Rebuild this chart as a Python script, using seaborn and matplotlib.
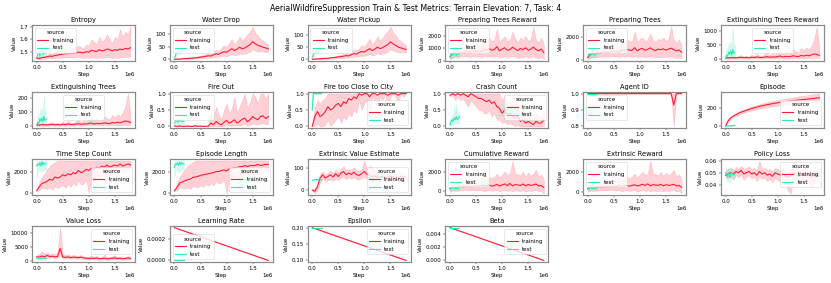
"""AerialWildfireSuppression train & test metric grid."""
import numpy as np
import pandas as pd
import seaborn as sns
import matplotlib.pyplot as plt

# x positions of the logged points
train_steps = np.linspace(0, 1.8e6, 37)
test_steps = np.linspace(0, 1.8e5, 10)
line_steps = [0, 1.8e6]
line_test_steps = [0, 1.8e5]

# ---- Entropy
entropy_train = [1.455, 1.452, 1.458, 1.46, 1.465, 1.47, 1.468, 1.475, 1.478, 1.482,
                 1.485, 1.488, 1.49, 1.492, 1.49, 1.495, 1.50, 1.498, 1.495, 1.505,
                 1.50, 1.515, 1.51, 1.505, 1.52, 1.51, 1.515, 1.525, 1.52, 1.51,
                 1.52, 1.515, 1.525, 1.52, 1.53, 1.525, 1.535]
entropy_train_lo = [1.45, 1.445, 1.45, 1.45, 1.452, 1.455, 1.45, 1.455, 1.455, 1.458,
                    1.46, 1.46, 1.46, 1.462, 1.458, 1.46, 1.465, 1.46, 1.455, 1.46,
                    1.455, 1.46, 1.46, 1.455, 1.46, 1.455, 1.46, 1.465, 1.46, 1.455,
                    1.46, 1.455, 1.46, 1.46, 1.465, 1.46, 1.47]
entropy_train_hi = [1.46, 1.462, 1.468, 1.472, 1.48, 1.49, 1.49, 1.50, 1.505, 1.51,
                    1.515, 1.52, 1.525, 1.53, 1.53, 1.54, 1.55, 1.54, 1.53, 1.56,
                    1.55, 1.60, 1.58, 1.56, 1.62, 1.58, 1.60, 1.64, 1.60, 1.57,
                    1.62, 1.60, 1.68, 1.62, 1.66, 1.64, 1.70]
entropy_test = [1.46, 1.48, 1.51, 1.47, 1.50, 1.52, 1.48, 1.50, 1.49, 1.50]
entropy_test_lo = [1.45, 1.46, 1.48, 1.45, 1.47, 1.48, 1.46, 1.47, 1.47, 1.48]
entropy_test_hi = [1.47, 1.50, 1.54, 1.50, 1.53, 1.55, 1.51, 1.53, 1.52, 1.52]
entropy_ticks = [1.5, 1.6, 1.7]

# ---- Water Drop
water_drop_train = [0, 1, 1, 2, 3, 3, 4, 5, 6, 7,
                    9, 10, 12, 14, 13, 18, 22, 20, 26, 30,
                    28, 35, 42, 35, 40, 48, 42, 45, 52, 58,
                    70, 62, 55, 52, 48, 45, 42]
water_drop_train_lo = [0, 0, 0, 1, 1, 1, 2, 2, 3, 3,
                       4, 5, 6, 7, 6, 8, 10, 9, 12, 14,
                       13, 16, 20, 16, 18, 24, 20, 22, 26, 30,
                       40, 34, 30, 32, 30, 28, 30]
water_drop_train_hi = [0, 2, 3, 4, 5, 6, 7, 8, 10, 12,
                       15, 16, 20, 24, 22, 30, 38, 34, 44, 55,
                       50, 65, 80, 60, 72, 90, 75, 85, 100, 110,
                       130, 105, 95, 80, 75, 65, 60]
water_drop_test = [5, 15, 28, 32, 30, 34, 30, 35, 32, 33]
water_drop_test_lo = [2, 8, 20, 22, 22, 25, 22, 26, 24, 25]
water_drop_test_hi = [10, 25, 38, 42, 40, 44, 40, 45, 42, 42]

# ---- Water Pickup
water_pickup_train = [0, 1, 2, 2, 3, 4, 4, 6, 7, 8,
                      10, 11, 13, 15, 14, 19, 24, 21, 28, 32,
                      30, 37, 44, 36, 42, 50, 44, 48, 55, 60,
                      72, 64, 58, 50, 47, 44, 40]
water_pickup_train_lo = [0, 0, 1, 1, 1, 2, 2, 3, 3, 4,
                         5, 5, 6, 7, 7, 9, 11, 10, 13, 15,
                         14, 17, 21, 17, 19, 25, 21, 23, 27, 31,
                         42, 36, 32, 30, 30, 28, 28]
water_pickup_train_hi = [0, 2, 3, 4, 5, 6, 7, 9, 11, 13,
                         16, 18, 22, 25, 23, 32, 40, 35, 46, 58,
                         52, 68, 85, 62, 75, 95, 78, 88, 105, 115,
                         135, 110, 100, 82, 76, 66, 58]
water_pickup_test = [8, 18, 30, 34, 32, 36, 31, 36, 33, 34]
water_pickup_test_lo = [4, 10, 22, 24, 24, 27, 23, 27, 25, 26]
water_pickup_test_hi = [12, 28, 40, 44, 42, 46, 40, 46, 43, 43]

# ---- Preparing Trees Reward
prep_reward_train = [300, 550, 650, 600, 700, 650, 720, 700, 680, 800,
                     750, 780, 700, 950, 820, 1000, 850, 900, 1150, 800,
                     950, 1050, 850, 900, 1100, 950, 820, 1000, 900, 1050,
                     850, 950, 1100, 900, 800, 950, 650]
prep_reward_train_lo = [100, 250, 350, 300, 350, 300, 350, 300, 300, 400,
                        300, 350, 250, 400, 300, 350, 300, 300, 400, 250,
                        300, 350, 250, 300, 350, 300, 200, 300, 250, 350,
                        250, 300, 350, 250, 200, 300, 150]
prep_reward_train_hi = [500, 850, 950, 900, 1100, 1050, 1150, 1200, 1100, 1300,
                        1300, 1400, 1250, 1700, 1450, 1900, 1600, 1700, 2600, 1500,
                        1800, 2000, 1600, 1700, 2400, 1800, 1500, 1900, 1700, 2000,
                        1600, 1800, 2800, 1700, 1500, 1900, 1300]
prep_reward_test = [300, 600, 400, 700, 500, 800, 400, 650, 500, 600]
prep_reward_test_lo = [100, 200, 150, 300, 200, 400, 150, 300, 200, 300]
prep_reward_test_hi = [600, 1000, 800, 1100, 900, 1200, 800, 1000, 900, 900]

# ---- Preparing Trees
prep_trees_train = [250, 500, 620, 580, 680, 640, 700, 720, 660, 780,
                    760, 800, 680, 920, 850, 980, 880, 860, 1100, 820,
                    980, 1020, 880, 950, 1080, 920, 850, 980, 920, 1000,
                    880, 980, 1050, 920, 820, 900, 700]
prep_trees_train_lo = [100, 200, 300, 280, 330, 300, 320, 330, 280, 380,
                       330, 350, 260, 380, 320, 360, 330, 300, 380, 280,
                       330, 340, 280, 320, 340, 300, 240, 310, 280, 330,
                       280, 320, 340, 280, 220, 290, 200]
prep_trees_train_hi = [450, 800, 950, 900, 1050, 1000, 1150, 1250, 1100, 1300,
                       1300, 1450, 1200, 1650, 1500, 1850, 1650, 1600, 2500, 1550,
                       1850, 1950, 1650, 1800, 2300, 1750, 1550, 1850, 1750, 1950,
                       1650, 1850, 2900, 1750, 1500, 1800, 1350]
prep_trees_test = [350, 550, 450, 650, 550, 750, 450, 600, 550, 600]
prep_trees_test_lo = [150, 200, 150, 300, 200, 350, 150, 300, 250, 300]
prep_trees_test_hi = [650, 950, 850, 1100, 950, 1200, 850, 1000, 900, 950]

# ---- Extinguishing Trees Reward
ext_reward_train = [50, 45, 60, 55, 50, 60, 70, 55, 65, 50,
                    75, 60, 85, 65, 60, 80, 95, 70, 85, 80,
                    100, 115, 80, 105, 90, 100, 125, 105, 95, 135,
                    115, 145, 125, 155, 190, 170, 140]
ext_reward_train_lo = [20, 20, 25, 25, 20, 25, 30, 20, 25, 20,
                       30, 25, 30, 25, 25, 30, 35, 25, 30, 30,
                       35, 40, 30, 35, 30, 35, 40, 35, 30, 40,
                       35, 45, 40, 45, 60, 50, 45]
ext_reward_train_hi = [90, 80, 110, 100, 90, 120, 150, 100, 130, 90,
                       170, 110, 200, 130, 120, 180, 230, 140, 200, 170,
                       250, 300, 180, 270, 220, 260, 350, 280, 240, 400,
                       320, 420, 350, 480, 700, 1150, 420]
ext_reward_test = [30, 150, 100, 250, 180, 300, 150, 350, 200, 250]
ext_reward_test_lo = [0, 30, 20, 60, 40, 80, 30, 100, 50, 80]
ext_reward_test_hi = [80, 400, 250, 600, 400, 650, 350, 1100, 450, 500]

# ---- Extinguishing Trees
ext_trees_train = [10, 9, 12, 11, 10, 12, 14, 11, 13, 10,
                   15, 12, 17, 13, 12, 16, 19, 14, 17, 16,
                   20, 23, 16, 21, 18, 20, 25, 21, 19, 27,
                   23, 29, 25, 31, 38, 34, 28]
ext_trees_train_lo = [4, 4, 5, 5, 4, 5, 6, 4, 5, 4,
                      6, 5, 6, 5, 5, 6, 7, 5, 6, 6,
                      7, 8, 6, 7, 6, 7, 8, 7, 6, 8,
                      7, 9, 8, 9, 12, 10, 9]
ext_trees_train_hi = [18, 16, 22, 20, 18, 24, 30, 20, 26, 18,
                      34, 22, 40, 26, 24, 36, 46, 28, 40, 34,
                      50, 60, 36, 54, 44, 52, 70, 56, 48, 80,
                      64, 84, 70, 96, 140, 230, 84]
ext_trees_test = [6, 30, 20, 50, 36, 60, 30, 70, 40, 50]
ext_trees_test_lo = [0, 6, 4, 12, 8, 16, 6, 20, 10, 16]
ext_trees_test_hi = [16, 80, 50, 120, 80, 130, 70, 220, 90, 100]

# ---- Fire Out
fire_out_train = [0.01, 0, 0.01, 0, 0, 0.01, 0, 0, 0.02, 0,
                  0.01, 0, 0, 0.01, 0.1, 0.05, 0.15, 0.08, 0.05, 0.12,
                  0.18, 0.1, 0.14, 0.2, 0.1, 0.15, 0.22, 0.25, 0.14, 0.2,
                  0.3, 0.24, 0.2, 0.3, 0.32, 0.24, 0.3]
fire_out_train_lo = [0, 0, 0, 0, 0, 0, 0, 0, 0, 0,
                     0, 0, 0, 0, 0, 0, 0.02, 0, 0, 0.02,
                     0.04, 0.02, 0.02, 0.05, 0.02, 0.03, 0.05, 0.06, 0.03, 0.05,
                     0.08, 0.06, 0.05, 0.08, 0.1, 0.06, 0.08]
fire_out_train_hi = [0.03, 0.01, 0.03, 0.01, 0.01, 0.03, 0.01, 0.01, 0.05, 0.01,
                     0.03, 0.01, 0.01, 0.03, 0.45, 0.25, 0.6, 0.35, 0.2, 0.5,
                     0.7, 0.4, 0.55, 0.9, 0.4, 0.6, 0.8, 1.0, 0.55, 0.75,
                     1.0, 0.9, 0.7, 1.0, 1.0, 0.85, 1.0]
fire_out_test = [0.1, 0.15, 0.2, 0.12, 0.18, 0.15, 0.2, 0.14, 0.16, 0.15]
fire_out_test_lo = [0, 0.05, 0.1, 0.02, 0.08, 0.05, 0.1, 0.04, 0.06, 0.05]
fire_out_test_hi = [0.2, 0.25, 0.3, 0.22, 0.28, 0.25, 0.3, 0.24, 0.26, 0.25]

# ---- Fire too Close to City
fire_close_train = [0, 0.3, 0.45, 0.3, 0.35, 0.45, 0.6, 0.5, 0.55, 0.65,
                    0.7, 0.6, 0.75, 0.7, 0.85, 0.8, 0.9, 0.85, 1.0, 0.95,
                    1.0, 1.0, 0.9, 1.0, 1.0, 0.95, 1.0, 1.0, 1.0, 0.95,
                    1.0, 1.0, 1.0, 0.95, 1.0, 1.0, 1.0]
fire_close_train_lo = [0, 0, 0.1, 0, 0, 0.05, 0.2, 0, 0.1, 0.2,
                       0.3, 0.1, 0.3, 0.2, 0.4, 0.3, 0.5, 0.4, 0.8, 0.5,
                       0.7, 0.8, 0.3, 0.9, 0.8, 0.6, 0.9, 0.8, 1.0, 0.5,
                       0.9, 1.0, 0.9, 0.7, 1.0, 0.9, 1.0]
fire_close_train_hi = [0.05, 0.6, 0.8, 0.7, 0.8, 0.85, 1.0, 1.0, 1.0, 1.0,
                       1.0, 1.0, 1.0, 1.0, 1.0, 1.0, 1.0, 1.0, 1.0, 1.0,
                       1.0, 1.0, 1.0, 1.0, 1.0, 1.0, 1.0, 1.0, 1.0, 1.0,
                       1.0, 1.0, 1.0, 1.0, 1.0, 1.0, 1.0]
fire_close_test = [0.5, 1, 1, 1, 1, 1, 1, 1, 1, 1]
fire_close_test_lo = [0.5, 1, 1, 1, 1, 1, 1, 1, 1, 1]
fire_close_test_hi = [0.5, 1, 1, 1, 1, 1, 1, 1, 1, 1]

# ---- Crash Count
crash_train = [0.95, 1.0, 0.95, 1.0, 0.95, 1.0, 0.95, 0.9, 1.0, 0.95,
               0.9, 0.85, 0.85, 0.8, 0.75, 0.8, 0.7, 0.75, 0.6, 0.55,
               0.4, 0.5, 0.35, 0.4, 0.3, 0.25, 0.3, 0.15, 0.2, 0.1,
               0.15, 0.1, 0.05, 0.15, 0.1, 0.1, 0.2]
crash_train_lo = [0.9, 0.95, 0.8, 0.9, 0.8, 0.85, 0.7, 0.6, 0.8, 0.7,
                  0.6, 0.5, 0.5, 0.4, 0.4, 0.5, 0.3, 0.4, 0.2, 0.2,
                  0.1, 0.15, 0.05, 0.1, 0.05, 0.0, 0.05, 0, 0, 0,
                  0, 0, 0, 0, 0, 0, 0]
crash_train_hi = [1.0, 1.0, 1.0, 1.0, 1.0, 1.0, 1.0, 1.0, 1.0, 1.0,
                  1.0, 1.0, 1.0, 1.0, 1.0, 1.0, 1.0, 1.0, 1.0, 1.0,
                  0.8, 0.95, 0.7, 0.8, 0.6, 0.55, 0.65, 0.4, 0.5, 0.3,
                  0.4, 0.3, 0.2, 0.4, 0.3, 0.3, 0.45]
crash_test = [0.05, 0.15, 0.2, 0.15, 0.25, 0.2, 0.3, 0.2, 0.25, 0.3]
crash_test_lo = [0, 0.05, 0.1, 0.05, 0.1, 0.1, 0.1, 0.1, 0.1, 0.15]
crash_test_hi = [0.1, 0.3, 0.35, 0.3, 0.6, 0.35, 0.7, 0.35, 0.4, 0.45]

# ---- Agent ID
agent_train = [1.0] * 33 + [0.93, 1.0, 1.0, 1.0]
agent_train_lo = [1.0] * 33 + [0.8, 1.0, 1.0, 1.0]
agent_train_hi = [1.0] * 37
agent_test = [1.0] * 10

# ---- Episode
episode_train = [0, 60, 90, 110, 125, 140, 152, 162, 172, 181,
                 190, 198, 206, 213, 220, 226, 232, 237, 242, 247,
                 252, 256, 260, 264, 268, 272, 275, 278, 281, 284,
                 287, 290, 293, 296, 299, 302, 305]
episode_train_lo = [0, 50, 80, 98, 112, 125, 136, 145, 154, 162,
                    170, 177, 184, 190, 196, 201, 206, 210, 214, 218,
                    222, 225, 228, 231, 234, 237, 240, 242, 244, 246,
                    248, 250, 252, 254, 256, 258, 260]
episode_train_hi = [0, 70, 100, 122, 138, 155, 168, 179, 190, 200,
                    210, 219, 228, 236, 244, 251, 258, 264, 270, 276,
                    282, 287, 292, 297, 302, 307, 311, 315, 319, 323,
                    327, 331, 335, 339, 343, 347, 350]
episode_test = [0, 2, 4, 5, 6, 7, 8, 9, 10, 10]
episode_test_lo = [0, 1, 2, 3, 4, 5, 6, 7, 8, 8]
episode_test_hi = [0, 3, 6, 7, 8, 9, 10, 11, 12, 12]

# ---- Time Step Count
timestep_train = [250, 600, 900, 1000, 1100, 1300, 1200, 1500, 1400, 1500,
                  1700, 1600, 1800, 1700, 1900, 1800, 2100, 1900, 2000, 2200,
                  2100, 2300, 2200, 2400, 2300, 2500, 2400, 2600, 2400, 2500,
                  2600, 2500, 2700, 2500, 2600, 2700, 2600]
timestep_train_lo = [200, 300, 500, 500, 400, 600, 300, 700, 500, 600,
                     800, 500, 900, 600, 1000, 700, 1200, 800, 900, 1300,
                     0, 1400, 1100, 1600, 1300, 1800, 1500, 1900, 1600, 1700,
                     2000, 1800, 2100, 1800, 2000, 2100, 2000]
timestep_train_hi = [300, 1000, 1500, 1800, 2200, 2500, 2700, 2800, 3000, 3000,
                     3000, 3000, 3000, 3000, 3000, 3000, 3000, 3000, 3000, 3000,
                     3000, 3000, 3000, 3000, 3000, 3000, 3000, 3000, 3000, 3000,
                     3000, 3000, 3000, 3000, 3000, 3000, 3000]
timestep_test = [2500, 2700, 2600, 2800, 2500, 2900, 2600, 2800, 2700, 2700]
timestep_test_lo = [1500, 2000, 2100, 2200, 1900, 2300, 2000, 2200, 2200, 2100]
timestep_test_hi = [3000, 3000, 3000, 3000, 3000, 3000, 3000, 3000, 3000, 3000]

# ---- Episode Length
ep_len_train = [250, 550, 950, 1050, 1150, 1250, 1300, 1450, 1500, 1550,
                1650, 1700, 1750, 1800, 1850, 1900, 2000, 2000, 2100, 2150,
                2050, 2250, 2300, 2350, 2350, 2450, 2450, 2550, 2450, 2550,
                2550, 2550, 2650, 2550, 2600, 2650, 2650]
ep_len_train_lo = [200, 300, 550, 500, 450, 550, 400, 650, 600, 550,
                   750, 600, 850, 700, 950, 750, 1150, 900, 1000, 1250,
                   0, 1350, 1200, 1550, 1400, 1750, 1600, 1850, 1650, 1750,
                   1950, 1850, 2050, 1850, 2000, 2100, 2050]
ep_len_train_hi = [300, 950, 1500, 1850, 2200, 2500, 2700, 2850, 3000, 3000,
                   3000, 3000, 3000, 3000, 3000, 3000, 3000, 3000, 3000, 3000,
                   3000, 3000, 3000, 3000, 3000, 3000, 3000, 3000, 3000, 3000,
                   3000, 3000, 3000, 3000, 3000, 3000, 3000]
ep_len_test = [2400, 2700, 2650, 2800, 2550, 2850, 2650, 2800, 2700, 2700]
ep_len_test_lo = [1500, 2000, 2100, 2200, 1900, 2300, 2000, 2200, 2200, 2100]
ep_len_test_hi = [3000, 3000, 3000, 3000, 3000, 3000, 3000, 3000, 3000, 3000]

# ---- Extrinsic Value Estimate
value_est_train = [0, -5, 15, 55, 70, 55, 62, 70, 60, 75,
                   62, 78, 85, 70, 78, 72, 82, 70, 68, 75,
                   85, 72, 68, 62, 65, 58, 60, 62, 58, 60,
                   62, 60, 58, 60, 62, 60, 60]
value_est_train_lo = [-5, -15, 0, 35, 55, 40, 45, 50, 42, 55,
                      45, 58, 62, 50, 58, 52, 60, 50, 48, 55,
                      60, 52, 48, 45, 48, 42, 44, 46, 42, 44,
                      46, 44, 42, 44, 46, 44, 44]
value_est_train_hi = [5, 5, 30, 75, 85, 70, 80, 90, 78, 95,
                      80, 98, 110, 90, 98, 92, 105, 90, 88, 95,
                      135, 95, 110, 105, 95, 80, 76, 78, 74, 76,
                      78, 76, 74, 76, 78, 76, 76]
value_est_test = [45, 46, 47, 48, 48, 48, 49, 48, 49, 48]
value_est_test_lo = [42, 43, 44, 45, 45, 45, 46, 45, 46, 45]
value_est_test_hi = [48, 49, 50, 51, 51, 51, 52, 51, 52, 51]

# ---- Cumulative Reward
cum_reward_train = [300, 450, 400, 450, 500, 420, 480, 520, 450, 500,
                    550, 480, 600, 500, 550, 650, 520, 600, 700, 550,
                    650, 750, 600, 800, 550, 700, 650, 600, 750, 550,
                    700, 600, 650, 750, 550, 600, 400]
cum_reward_train_lo = [0, 150, 100, 150, 100, 100, 150, 100, 100, 150,
                       100, 100, 150, 0, 100, 150, 50, 100, 150, 0,
                       100, 150, 50, 100, 0, 100, 50, 50, 100, 0,
                       100, 50, 100, 150, 0, 50, -200]
cum_reward_train_hi = [700, 800, 800, 900, 1000, 900, 1000, 1100, 1000, 1100,
                       1200, 1100, 1400, 1200, 1300, 1500, 1300, 1500, 1800, 1400,
                       1700, 2000, 1600, 1800, 3100, 1800, 1700, 1600, 2000, 1500,
                       1900, 1600, 1800, 2200, 1500, 1700, 1200]
cum_reward_test = [200, 350, 300, 400, 300, 350, 250, 400, 300, 350]
cum_reward_test_lo = [-100, 0, 0, 50, 0, 50, -50, 50, 0, 50]
cum_reward_test_hi = [500, 700, 650, 800, 700, 700, 600, 800, 650, 700]

# ---- Extrinsic Reward
ext_rew_train = [320, 430, 420, 460, 480, 440, 470, 500, 470, 520,
                 530, 500, 580, 520, 560, 630, 540, 620, 680, 570,
                 640, 730, 620, 780, 570, 690, 660, 620, 730, 570,
                 690, 620, 660, 730, 570, 620, 420]
ext_rew_train_lo = [20, 130, 120, 160, 110, 120, 140, 110, 120, 160,
                    120, 110, 160, 20, 110, 160, 60, 120, 160, 20,
                    110, 160, 60, 110, 20, 110, 60, 60, 110, 20,
                    110, 60, 110, 160, 20, 60, -180]
ext_rew_train_hi = [680, 780, 820, 880, 980, 920, 980, 1080, 1020, 1120,
                    1180, 1120, 1380, 1220, 1320, 1480, 1320, 1520, 1780, 1420,
                    1680, 1980, 1620, 1780, 3100, 1820, 1720, 1620, 1980, 1520,
                    1880, 1620, 1820, 2180, 1520, 1720, 1220]
ext_rew_test = [220, 330, 320, 380, 320, 340, 270, 380, 320, 340]
ext_rew_test_lo = [-80, 20, 20, 60, 20, 60, -30, 60, 20, 60]
ext_rew_test_hi = [520, 680, 660, 780, 680, 700, 620, 780, 660, 700]

# ---- Policy Loss
policy_train = [0.048, 0.049, 0.050, 0.049, 0.051, 0.050, 0.052, 0.049, 0.050, 0.051,
                0.049, 0.050, 0.048, 0.051, 0.049, 0.050, 0.048, 0.049, 0.047, 0.050,
                0.049, 0.048, 0.050, 0.047, 0.046, 0.048, 0.050, 0.049, 0.047, 0.048,
                0.050, 0.049, 0.048, 0.046, 0.048, 0.049, 0.047]
policy_train_lo = [0.046, 0.046, 0.047, 0.045, 0.048, 0.046, 0.049, 0.044, 0.047, 0.048,
                   0.045, 0.047, 0.043, 0.047, 0.045, 0.046, 0.043, 0.045, 0.042, 0.046,
                   0.044, 0.043, 0.046, 0.040, 0.035, 0.033, 0.045, 0.044, 0.041, 0.043,
                   0.045, 0.043, 0.042, 0.038, 0.042, 0.044, 0.041]
policy_train_hi = [0.051, 0.053, 0.054, 0.052, 0.055, 0.053, 0.056, 0.053, 0.054, 0.055,
                   0.053, 0.054, 0.052, 0.060, 0.053, 0.054, 0.052, 0.053, 0.051, 0.054,
                   0.053, 0.052, 0.054, 0.051, 0.050, 0.052, 0.054, 0.053, 0.051, 0.052,
                   0.058, 0.053, 0.052, 0.050, 0.052, 0.053, 0.051]
policy_test = [0.050, 0.049, 0.047, 0.050, 0.046, 0.048, 0.050, 0.049, 0.048, 0.049]
policy_test_lo = [0.047, 0.045, 0.042, 0.046, 0.042, 0.044, 0.046, 0.045, 0.044, 0.046]
policy_test_hi = [0.053, 0.054, 0.052, 0.055, 0.051, 0.053, 0.055, 0.053, 0.052, 0.052]

# ---- Value Loss
value_loss_train = [1500, 1400, 1800, 1500, 2000, 1600, 1700, 1500, 1600, 4500,
                    1400, 1300, 1500, 1200, 1400, 1300, 1200, 1400, 1100, 1000,
                    900, 1000, 900, 1100, 800, 900, 1000, 800, 900, 1000,
                    1100, 900, 1000, 800, 900, 1100, 900]
value_loss_train_lo = [1200, 1000, 1300, 1100, 1200, 1100, 1200, 1000, 1100, 2500,
                       900, 900, 1000, 800, 900, 800, 800, 900, 700, 600,
                       500, 600, 500, 600, 400, 500, 600, 400, 500, 600,
                       600, 500, 600, 400, 500, 600, 500]
value_loss_train_hi = [1800, 2500, 3500, 2500, 3000, 2500, 2800, 2500, 3000, 12000,
                       2200, 2000, 2500, 1800, 2200, 2000, 1800, 2200, 1600, 1500,
                       1400, 2000, 1500, 1800, 1200, 1400, 2400, 1300, 1400, 1600,
                       2000, 1400, 1600, 1200, 1400, 1800, 1300]
value_loss_test = [1000, 1200, 800, 1300, 900, 1100, 1000, 1200, 900, 1000]
value_loss_test_lo = [400, 500, 300, 400, 200, 500, 400, 500, 300, 400]
value_loss_test_hi = [1800, 2500, 1500, 2400, 2000, 2000, 1800, 2200, 1700, 1800]

# ---- schedules (straight lines)
lr_train = [0.0003, 0.0]
lr_test = [0.0, 0.0]
epsilon_train = [0.2, 0.1]
epsilon_test = [0.2, 0.2]
beta_train = [0.005, 0.0]
beta_test = [0.005, 0.005]

PALETTE = {"training": "#ff1a33", "test": "#2ee8b6"}


def long_form(steps, line, lo, hi, source):
    """Three observations per step: the median is the line, min/max the band."""
    lo = line if lo is None else lo
    hi = line if hi is None else hi
    rows = []
    for s, a, b, c in zip(steps, lo, line, hi):
        for v in (a, b, c):
            rows.append((s, v, source))
    return pd.DataFrame(rows, columns=["Step", "Value", "source"])


panels = [
    ("Entropy", train_steps, entropy_train, entropy_train_lo, entropy_train_hi,
     test_steps, entropy_test, entropy_test_lo, entropy_test_hi, "upper left"),
    ("Water Drop", train_steps, water_drop_train, water_drop_train_lo, water_drop_train_hi,
     test_steps, water_drop_test, water_drop_test_lo, water_drop_test_hi, "upper left"),
    ("Water Pickup", train_steps, water_pickup_train, water_pickup_train_lo, water_pickup_train_hi,
     test_steps, water_pickup_test, water_pickup_test_lo, water_pickup_test_hi, "upper left"),
    ("Preparing Trees Reward", train_steps, prep_reward_train, prep_reward_train_lo, prep_reward_train_hi,
     test_steps, prep_reward_test, prep_reward_test_lo, prep_reward_test_hi, "upper left"),
    ("Preparing Trees", train_steps, prep_trees_train, prep_trees_train_lo, prep_trees_train_hi,
     test_steps, prep_trees_test, prep_trees_test_lo, prep_trees_test_hi, "upper left"),
    ("Extinguishing Trees Reward", train_steps, ext_reward_train, ext_reward_train_lo, ext_reward_train_hi,
     test_steps, ext_reward_test, ext_reward_test_lo, ext_reward_test_hi, "upper center"),
    ("Extinguishing Trees", train_steps, ext_trees_train, ext_trees_train_lo, ext_trees_train_hi,
     test_steps, ext_trees_test, ext_trees_test_lo, ext_trees_test_hi, "upper center"),
    ("Fire Out", train_steps, fire_out_train, fire_out_train_lo, fire_out_train_hi,
     test_steps, fire_out_test, fire_out_test_lo, fire_out_test_hi, "upper left"),
    ("Fire too Close to City", train_steps, fire_close_train, fire_close_train_lo, fire_close_train_hi,
     test_steps, fire_close_test, fire_close_test_lo, fire_close_test_hi, "lower right"),
    ("Crash Count", train_steps, crash_train, crash_train_lo, crash_train_hi,
     test_steps, crash_test, crash_test_lo, crash_test_hi, "upper right"),
    ("Agent ID", train_steps, agent_train, agent_train_lo, agent_train_hi,
     test_steps, agent_test, None, None, "upper left"),
    ("Episode", train_steps, episode_train, episode_train_lo, episode_train_hi,
     test_steps, episode_test, episode_test_lo, episode_test_hi, "lower right"),
    ("Time Step Count", train_steps, timestep_train, timestep_train_lo, timestep_train_hi,
     test_steps, timestep_test, timestep_test_lo, timestep_test_hi, "lower right"),
    ("Episode Length", train_steps, ep_len_train, ep_len_train_lo, ep_len_train_hi,
     test_steps, ep_len_test, ep_len_test_lo, ep_len_test_hi, "lower right"),
    ("Extrinsic Value Estimate", train_steps, value_est_train, value_est_train_lo, value_est_train_hi,
     test_steps, value_est_test, value_est_test_lo, value_est_test_hi, "lower right"),
    ("Cumulative Reward", train_steps, cum_reward_train, cum_reward_train_lo, cum_reward_train_hi,
     test_steps, cum_reward_test, cum_reward_test_lo, cum_reward_test_hi, "upper left"),
    ("Extrinsic Reward", train_steps, ext_rew_train, ext_rew_train_lo, ext_rew_train_hi,
     test_steps, ext_rew_test, ext_rew_test_lo, ext_rew_test_hi, "upper left"),
    ("Policy Loss", train_steps, policy_train, policy_train_lo, policy_train_hi,
     test_steps, policy_test, policy_test_lo, policy_test_hi, "upper right"),
    ("Value Loss", train_steps, value_loss_train, value_loss_train_lo, value_loss_train_hi,
     test_steps, value_loss_test, value_loss_test_lo, value_loss_test_hi, "upper right"),
    ("Learning Rate", line_steps, lr_train, None, None,
     line_test_steps, lr_test, None, None, "lower left"),
    ("Epsilon", line_steps, epsilon_train, None, None,
     line_test_steps, epsilon_test, None, None, "upper right"),
    ("Beta", line_steps, beta_train, None, None,
     line_test_steps, beta_test, None, None, "upper right"),
]

DPI = 40
fig, axes = plt.subplots(4, 6, figsize=(831 / DPI, 283 / DPI))
fig.subplots_adjust(left=0.0385, right=0.9916, top=0.912, bottom=0.074,
                    wspace=0.335, hspace=0.86)
axes = axes.flatten()

for ax, (title, st, tr, tr_lo, tr_hi, ss, te, te_lo, te_hi, loc) in zip(axes, panels):
    df = pd.concat([long_form(st, tr, tr_lo, tr_hi, "training"),
                    long_form(ss, te, te_lo, te_hi, "test")], ignore_index=True)
    sns.lineplot(data=df, x="Step", y="Value", hue="source", palette=PALETTE,
                 estimator="median", errorbar=("pi", 100), linewidth=2.0, ax=ax)
    ax.set_title(title, fontsize=12)
    sns.move_legend(ax, loc, title="source", fontsize=10, title_fontsize=10)
    for spine in ax.spines.values():
        spine.set_linewidth(2.2)
        spine.set_edgecolor("#8a8a8a")

axes[0].set_yticks(entropy_ticks)

for ax in axes[len(panels):]:
    ax.remove()

fig.suptitle("AerialWildfireSuppression Train & Test Metrics: Terrain Elevation: 7, Task: 4",
             fontsize=14, y=0.985)
fig.savefig("out.png", dpi=DPI)
